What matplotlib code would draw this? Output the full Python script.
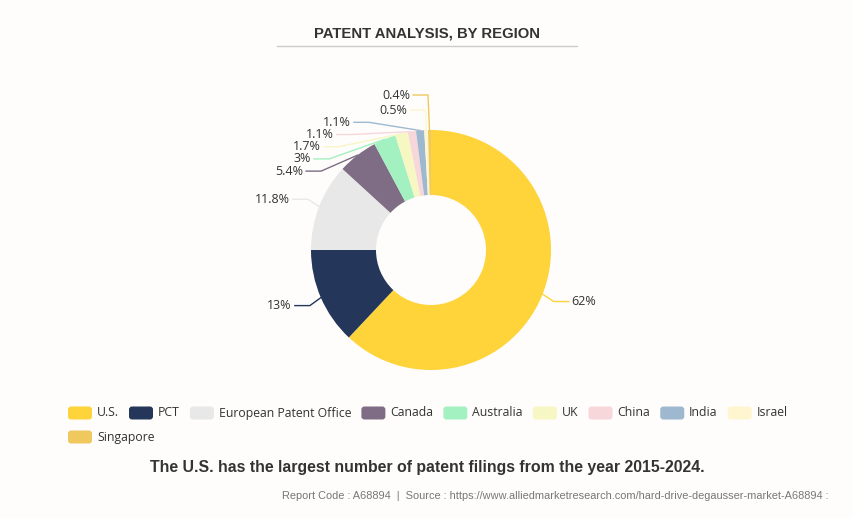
import numpy as np
import matplotlib
matplotlib.use("Agg")
import matplotlib.pyplot as plt
from matplotlib.patches import FancyBboxPatch

regions = ["U.S.", "PCT", "European Patent Office", "Canada", "Australia",
           "UK", "China", "India", "Israel", "Singapore"]
shares = [62, 13, 11.8, 5.4, 3, 1.7, 1.1, 1.1, 0.5, 0.4]
labels = ["62%", "13%", "11.8%", "5.4%", "3%", "1.7%", "1.1%", "1.1%", "0.5%", "0.4%"]
colors = ["#ffd43b", "#243659", "#e8e8e8", "#7e6d84", "#a3f0c0",
          "#f7f7c4", "#f7d7da", "#9eb9cf", "#fff6cf", "#efc85e"]

title = "PATENT ANALYSIS, BY REGION"
caption = "The U.S. has the largest number of patent filings from the year 2015-2024."
footer = ("Report Code : A68894  |  Source : "
          "https://www.alliedmarketresearch.com/hard-drive-degausser-market-A68894 :")

W, H = 854, 518
BG = "#fefdfb"
FONT = ["Open Sans", "DejaVu Sans"]
ARIAL = ["Liberation Sans", "DejaVu Sans"]

fig = plt.figure(figsize=(W / 100, H / 100), dpi=100, facecolor=BG)
ax = fig.add_axes([0, 0, 1, 1])
ax.set_facecolor(BG)


def py(y):
    # pixel row (top-down) -> data y
    return H - y


cx, cy = 431, py(250)
R_OUT, R_IN = 120, 55
ax.pie(shares, colors=colors, startangle=90, counterclock=False,
       radius=R_OUT, center=(cx, cy),
       wedgeprops=dict(width=R_OUT - R_IN, linewidth=0))
ax.set_xlim(0, W)
ax.set_ylim(0, H)
ax.set_aspect("equal")
ax.axis("off")

# --- outside labels with leader lines (echarts-like layout) ---
frac = np.array(shares) / sum(shares)
start = 90 - 360 * np.concatenate([[0], np.cumsum(frac)[:-1]])
mid = np.radians(start - 180 * frac)
EA, EB = 132, 140     # ellipse the elbows sit on
HLEN, STEP = 15, 12.2

dx_nat = EA * np.cos(mid)
dy_nat = EB * np.sin(mid)
dx_el = dx_nat.copy()
dy_el = dy_nat.copy()

left = [i for i in range(len(shares)) if np.cos(mid[i]) < 0]
left.sort(key=lambda i: -dy_nat[i])
prev = None
for i in left:
    if prev is None:
        dy_el[i] = dy_nat[i] + 15
    else:
        dy_el[i] = min(dy_nat[i], prev - STEP)
    prev = dy_el[i]
    if abs(dy_el[i] - dy_nat[i]) > 0.5:
        if abs(dy_el[i]) > 0.98 * 145:
            dx_el[i] = R_OUT * np.cos(mid[i]) - 1.5
        else:
            dx_el[i] = -131 * np.sqrt(1 - (dy_el[i] / 145) ** 2)

for i, lab in enumerate(labels):
    ex, ey = cx + R_OUT * np.cos(mid[i]), cy + R_OUT * np.sin(mid[i])
    bx, by = cx + dx_el[i], cy + dy_el[i]
    sgn = 1 if np.cos(mid[i]) >= 0 else -1
    tx = bx + sgn * HLEN
    ax.plot([ex, bx, tx], [ey, by, by], color=colors[i], lw=1,
            solid_joinstyle="miter", zorder=1)
    ax.text(tx + sgn * 3, by, lab, ha="left" if sgn > 0 else "right",
            va="center", fontsize=9.0, color="#333333", family=FONT)

# --- title ---
ax.text(427, py(33), title, ha="center", va="center", fontsize=10.7,
        fontweight="bold", color="#333333", family=ARIAL)
ax.plot([277, 577], [py(46), py(46)], color="#cccccc", lw=1)

# --- legend ---
fig.canvas.draw()
rend = fig.canvas.get_renderer()
x0, x_max = 68, 810
lx, ly = x0, py(413)
SW, SH = 24, 13
for name, col in zip(regions, colors):
    t = ax.text(0, 0, name, fontsize=8.85, color="#333333", family=FONT,
                va="center", ha="left")
    tw = t.get_window_extent(rend).width
    item_w = SW + 5 + tw
    if lx + item_w > x_max:
        lx = x0
        ly -= 24
    ax.add_patch(FancyBboxPatch((lx, ly - SH / 2), SW, SH,
                                boxstyle="round,pad=0,rounding_size=3",
                                fc=col, ec="none"))
    t.set_position((lx + SW + 5, ly))
    lx += item_w + 10

# --- caption and footer ---
ax.text(427, py(468), caption, ha="center", va="center", fontsize=11.4,
        fontweight="bold", color="#333333", family=ARIAL)
ax.text(829, py(496), footer, ha="right", va="center", fontsize=7.9,
        color="#777777", family=ARIAL)

fig.savefig("out.png", dpi=100, facecolor=BG)
